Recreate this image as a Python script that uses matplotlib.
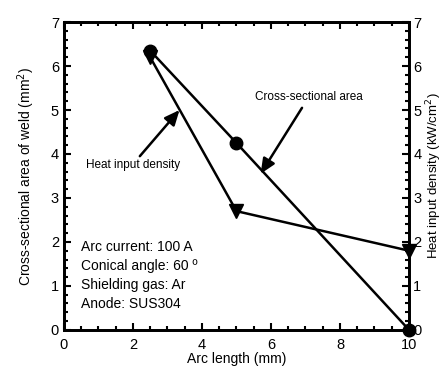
import matplotlib
matplotlib.use("Agg")
import matplotlib.pyplot as plt
from matplotlib.ticker import MultipleLocator

plt.rcParams['font.family'] = ['Liberation Sans', 'DejaVu Sans']

arc_length = [2.5, 5, 10]
area = [6.35, 4.25, 0.0]
heat_density = [6.2, 2.7, 1.8]

fig = plt.figure(figsize=(4.47, 3.74), dpi=100)
ax = fig.add_axes([0.143, 0.118, 0.772, 0.823])

ax.plot(arc_length, area, color='black', lw=1.8, marker='o', ms=9, zorder=3, clip_on=False)
ax.plot(arc_length, heat_density, color='black', lw=1.8, marker='v', ms=10, zorder=3, clip_on=False)

ax.set_xlim(0, 10)
ax.set_ylim(0, 7)
ax.xaxis.set_major_locator(MultipleLocator(2))
ax.xaxis.set_minor_locator(MultipleLocator(0.5))
ax.yaxis.set_major_locator(MultipleLocator(1))
ax.yaxis.set_minor_locator(MultipleLocator(0.2))
ax.tick_params(which='both', direction='in', top=True, right=False, width=1.5)
ax.tick_params(which='major', length=5, labelsize=10.5)
ax.tick_params(axis='x', pad=6)
ax.tick_params(which='minor', length=3)
for s in ax.spines.values():
    s.set_linewidth(2)

ax.set_xlabel('Arc length (mm)', fontsize=10, labelpad=0)
ax.set_ylabel('Cross-sectional area of weld (mm$^2$)', fontsize=10, labelpad=10)

ax2 = ax.twinx()
ax2.set_ylim(0, 7)
ax2.yaxis.set_major_locator(MultipleLocator(1))
ax2.yaxis.set_minor_locator(MultipleLocator(0.2))
ax2.tick_params(which='both', direction='in', width=1.5)
ax2.tick_params(which='major', length=5, labelsize=10.5, pad=3)
ax2.tick_params(which='minor', length=3)
ax2.set_ylabel('Heat input density (kW/cm$^2$)', fontsize=9.5, labelpad=2)
for s in ax2.spines.values():
    s.set_linewidth(2)

ax.text(0.5, 2.05, 'Arc current: 100 A\nConical angle: 60 \u00ba\nShielding gas: Ar\nAnode: SUS304',
        fontsize=10, va='top', ha='left', linespacing=1.45)

arrow = dict(arrowstyle='-|>,head_length=0.9,head_width=0.4', color='black', lw=1.8, shrinkA=0, shrinkB=0)
ax.text(7.1, 5.3, 'Cross-sectional area', fontsize=8.5, ha='center', va='center')
ax.annotate('', xy=(5.7, 3.55), xytext=(6.9, 5.05), arrowprops=arrow)
ax.text(2.0, 3.75, 'Heat input density', fontsize=8.5, ha='center', va='center')
ax.annotate('', xy=(3.35, 5.0), xytext=(2.2, 3.95), arrowprops=arrow)

fig.savefig('out.png', dpi=100)
